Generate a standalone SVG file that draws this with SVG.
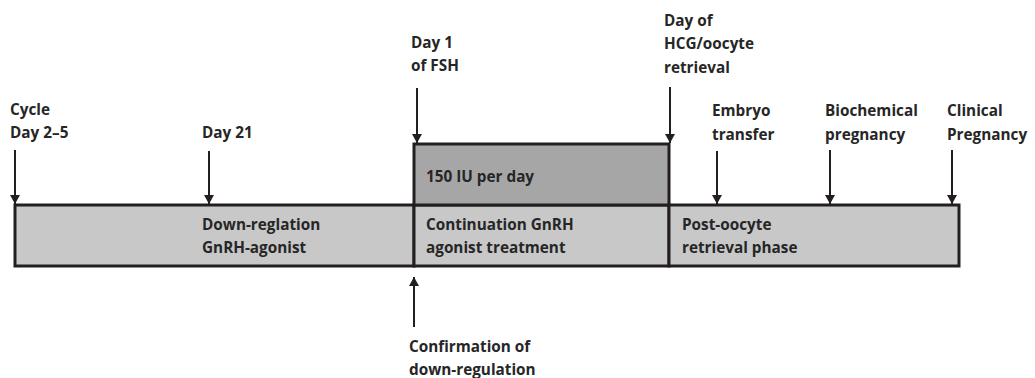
<svg xmlns="http://www.w3.org/2000/svg" width="1035" height="378" viewBox="0 0 1035 378">
<style>
text{font-family:"Open Sans","Liberation Sans",sans-serif;font-weight:bold;font-size:15.3px;fill:#262626}
.box{stroke:#231f20;stroke-width:3}
.bar{fill:#c8c8c8}
.fsh{fill:#a6a6a6}
.arr{stroke:#231f20;stroke-width:2;fill:none;marker-end:url(#ah)}
</style>
<defs>
<marker id="ah" markerWidth="10" markerHeight="10" refX="9" refY="5" orient="auto" markerUnits="userSpaceOnUse" viewBox="0 0 10 10">
<path d="M0,0 L9,5 L0,10 Z" fill="#231f20"/>
</marker>
</defs>
<g id="down-regulation-phase">
<rect class="box bar" x="15" y="205" width="399" height="61"/>
<text x="202" y="230">Down-reglation</text>
<text x="202" y="253">GnRH-agonist</text>
</g>
<g id="continuation-phase">
<rect class="box bar" x="414" y="205" width="255" height="61"/>
<text x="426" y="230">Continuation GnRH</text>
<text x="426" y="253">agonist treatment</text>
</g>
<g id="fsh-box">
<rect class="box fsh" x="414" y="144" width="255" height="61"/>
<text x="426" y="182">150 IU per day</text>
</g>
<g id="post-retrieval-phase">
<rect class="box bar" x="669" y="205" width="290" height="61"/>
<text x="682" y="230">Post-oocyte</text>
<text x="682" y="253">retrieval phase</text>
</g>
<g id="label-cycle"><text x="10" y="115">Cycle</text><text x="10" y="138">Day 2–5</text></g>
<g id="label-day21"><text x="202" y="138">Day 21</text></g>
<g id="label-day1"><text x="411" y="48">Day 1</text><text x="411" y="71">of FSH</text></g>
<g id="label-hcg"><text x="664" y="26">Day of</text><text x="664" y="49">HCG/oocyte</text><text x="664" y="73">retrieval</text></g>
<g id="label-embryo"><text x="712" y="116">Embryo</text><text x="712" y="140">transfer</text></g>
<g id="label-biochem"><text x="825" y="116">Biochemical</text><text x="825" y="140">pregnancy</text></g>
<g id="label-clinical"><text x="947" y="116">Clinical</text><text x="947" y="140">Pregnancy</text></g>
<g id="label-confirm"><text x="409" y="352">Confirmation of</text><text x="409" y="375">down-regulation</text></g>
<g id="connectors">
<path class="arr" d="M15,150 V204"/>
<path class="arr" d="M209,151 V204"/>
<path class="arr" d="M417,88 V143"/>
<path class="arr" d="M670,87 V143"/>
<path class="arr" d="M717,151 V204"/>
<path class="arr" d="M830,150 V204"/>
<path class="arr" d="M952,150 V204"/>
<path class="arr" d="M414,327 V277"/>
</g>
</svg>
